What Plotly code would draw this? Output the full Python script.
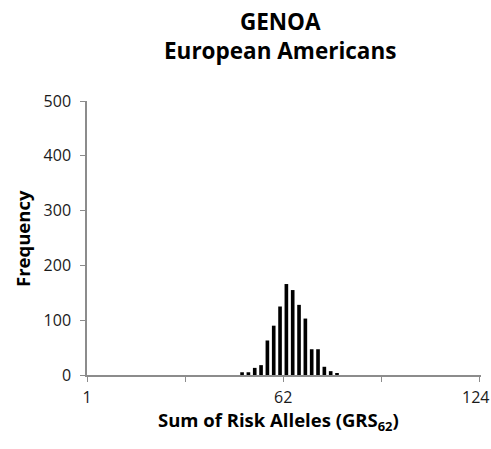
import plotly.graph_objects as go

# Sum of risk alleles (bin centres, width 2) and counts
allele_sums = [49, 51, 53, 55, 57, 59, 61, 63, 65, 67, 69, 71, 73, 75, 77, 79]
frequency = [5, 5, 13, 18, 63, 90, 125, 166, 155, 128, 103, 47, 47, 15, 7, 2]

x_tick_vals = [0, 62]
x_tick_text = ["1", "62"]
x_end_label = "124"
x_mark_step = 31
y_tick_vals = [0, 100, 200, 300, 400, 500]
title_lines = ["GENOA", "European Americans"]
x_title = "Sum of Risk Alleles (GRS<sub>62</sub>)"
y_title = "Frequency"

font_family = "'Open Sans', sans-serif"
axis_grey = "#8c8c8c"
label_color = "#1a1a1a"
tick_size = 16

fig = go.Figure(
    go.Bar(
        x=allele_sums,
        y=frequency,
        width=1.15,
        marker=dict(color="black", line=dict(width=0)),
    )
)

fig.update_layout(
    width=491,
    height=449,
    margin=dict(l=87, r=10, t=101, b=74),
    paper_bgcolor="white",
    plot_bgcolor="white",
    showlegend=False,
    font=dict(family=font_family, size=tick_size, color=label_color),
)

# two-line bold title
fig.add_annotation(
    x=0.49, y=1.238, xref="paper", yref="paper",
    text="<b>" + "<br>".join(title_lines) + "</b>",
    showarrow=False, xanchor="center", yanchor="middle",
    font=dict(family=font_family, size=22.5, color="black"),
)

# axis titles
fig.add_annotation(
    x=0.487, y=-0.168, xref="paper", yref="paper",
    text="<b>" + x_title + "</b>",
    showarrow=False, xanchor="center", yanchor="middle",
    font=dict(family=font_family, size=18.5, color="black"),
)
fig.add_annotation(
    x=-0.165, y=0.5, xref="paper", yref="paper",
    text="<b>" + y_title + "</b>", textangle=-90,
    showarrow=False, xanchor="center", yanchor="middle",
    font=dict(family=font_family, size=18.5, color="black"),
)

# right-most category label, kept inside the page edge
fig.add_annotation(
    x=124, y=0, xref="x", yref="y",
    text=x_end_label, showarrow=False,
    xanchor="center", yanchor="top", xshift=-4, yshift=-9,
    font=dict(family=font_family, size=tick_size, color=label_color),
)

fig.update_xaxes(
    range=[0, 124.5],
    tickvals=x_tick_vals,
    ticktext=x_tick_text,
    ticks="outside",
    ticklen=5,
    tickcolor=axis_grey,
    minor=dict(
        tick0=0, dtick=x_mark_step, ticks="outside",
        ticklen=5, tickcolor=axis_grey, showgrid=False,
    ),
    showline=True,
    linecolor=axis_grey,
    linewidth=1.5,
    showgrid=False,
    zeroline=False,
    ticklabelstandoff=2,
    tickfont=dict(size=tick_size, color=label_color),
)

fig.update_yaxes(
    range=[0, 500],
    tickvals=y_tick_vals,
    ticks="outside",
    ticklen=5,
    tickcolor=axis_grey,
    showline=True,
    linecolor=axis_grey,
    linewidth=1.5,
    showgrid=False,
    zeroline=False,
    ticklabelstandoff=6,
    tickfont=dict(size=tick_size, color=label_color),
)

fig.write_html("out.html")
